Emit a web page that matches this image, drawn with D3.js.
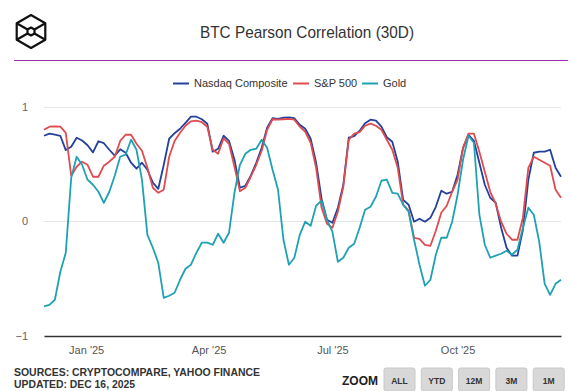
<!DOCTYPE html>
<html>
<head>
<meta charset="utf-8">
<script src="https://cdn.jsdelivr.net/npm/d3@7"></script>
<style>
  html, body { margin: 0; padding: 0; background: #fff; }
  svg { display: block; font-family: "Liberation Sans", Arial, sans-serif; }
</style>
</head>
<body>
<div id="chart"></div>
<script>
// one reading every 4 days, from Dec 1 2024 to Dec 16 2025
const startDate = "2024-12-01";
const stepDays = 4;

const nasdaq = [0.745, 0.763, 0.754, 0.745, 0.62, 0.65, 0.728, 0.704, 0.662, 0.60,
  0.697, 0.68, 0.623, 0.571, 0.627, 0.597, 0.51, 0.458, 0.51, 0.449,
  0.336, 0.283, 0.49, 0.719, 0.767, 0.806, 0.858, 0.911, 0.911, 0.889,
  0.85, 0.606, 0.632, 0.745, 0.70, 0.536, 0.292, 0.309, 0.397, 0.51,
  0.64, 0.815, 0.898, 0.893, 0.902, 0.906, 0.898, 0.841, 0.806, 0.719,
  0.51, 0.196, 0.013, -0.013, 0.118, 0.318, 0.728, 0.741, 0.789, 0.854,
  0.885, 0.876, 0.824, 0.732, 0.693, 0.519, 0.187, 0.144, -0.004, 0.022,
  -0.004, 0.03, 0.126, 0.266, 0.24, 0.257, 0.405, 0.64, 0.754, 0.70,
  0.51, 0.318, 0.205, 0.161, -0.057, -0.231, -0.30, -0.30, -0.074, 0.362,
  0.597, 0.606, 0.606, 0.623, 0.466, 0.388];

const sp500 = [0.797, 0.824, 0.826, 0.824, 0.771, 0.397, 0.475, 0.519, 0.492, 0.388,
  0.388, 0.484, 0.519, 0.562, 0.70, 0.754, 0.754, 0.675, 0.614, 0.466,
  0.292, 0.248, 0.275, 0.562, 0.70, 0.771, 0.832, 0.871, 0.876, 0.863,
  0.824, 0.623, 0.588, 0.723, 0.675, 0.475, 0.261, 0.292, 0.388, 0.492,
  0.614, 0.797, 0.889, 0.885, 0.889, 0.893, 0.885, 0.824, 0.78, 0.684,
  0.466, 0.118, -0.022, -0.057, 0.083, 0.301, 0.71, 0.763, 0.776, 0.832,
  0.85, 0.832, 0.797, 0.71, 0.623, 0.466, 0.144, 0.092, -0.144, -0.153,
  -0.205, -0.214, -0.083, 0.074, 0.135, 0.257, 0.362, 0.64, 0.763, 0.763,
  0.606, 0.431, 0.257, 0.153, -0.004, -0.109, -0.161, -0.161, 0.03, 0.466,
  0.562, 0.536, 0.51, 0.484, 0.275, 0.205];

const gold = [-0.742, -0.728, -0.684, -0.44, -0.275, 0.379, 0.562, 0.492, 0.362, 0.318,
  0.257, 0.161, 0.257, 0.397, 0.562, 0.58, 0.71, 0.623, 0.362, -0.118,
  -0.231, -0.362, -0.667, -0.649, -0.623, -0.51, -0.414, -0.379, -0.275, -0.187,
  -0.187, -0.205, -0.109, -0.187, -0.10, 0.248, 0.492, 0.588, 0.623, 0.632,
  0.71, 0.64, 0.449, 0.275, -0.161, -0.379, -0.318, -0.118, -0.004, -0.04,
  0.135, 0.179, 0.013, -0.092, -0.353, -0.318, -0.231, -0.196, -0.057, 0.10,
  0.126, 0.214, 0.353, 0.362, 0.248, 0.24, 0.144, 0.083, -0.161, -0.379,
  -0.562, -0.51, -0.292, -0.144, -0.144, -0.004, 0.231, 0.536, 0.745, 0.684,
  0.057, -0.205, -0.318, -0.30, -0.283, -0.257, -0.292, -0.248, -0.057, 0.118,
  0.057, -0.179, -0.545, -0.641, -0.545, -0.51];

const seriesNames = ["Nasdaq Composite", "S&P 500", "Gold"];
const yTicks = [-1, 0, 1];
const xTicks = ["2025-01-01", "2025-04-01", "2025-07-01", "2025-10-01"];
const zoomLabels = ["ALL", "YTD", "12M", "3M", "1M"];
const titleText = "BTC Pearson Correlation (30D)";
const sourceText = "SOURCES: CRYPTOCOMPARE, YAHOO FINANCE";
const updatedText = "UPDATED: DEC 16, 2025";

const colors = ["#23409a", "#e04b4f", "#1ea2b3"];

const width = 571, height = 391;
const plot = { left: 44, right: 561, top: 106.5, bottom: 336 };

const svg = d3.select("#chart").append("svg")
    .attr("width", width)
    .attr("height", height);

const start = d3.utcParse("%Y-%m-%d")(startDate);
const dates = nasdaq.map((_, i) => d3.utcDay.offset(start, i * stepDays));
const allSeries = [nasdaq, sp500, gold];

const x = d3.scaleUtc()
    .domain([dates[0], dates[dates.length - 1]])
    .range([plot.left, plot.right]);

const y = d3.scaleLinear()
    .domain([-1, 1])
    .range([plot.bottom, plot.top]);

// logo
const logo = svg.append("g")
    .attr("transform", "translate(31,31.5)")
    .attr("fill", "none")
    .attr("stroke", "#111")
    .attr("stroke-width", 2.2)
    .attr("stroke-linejoin", "round");
const hexPoints = (r) => d3.range(6).map(i => {
    const a = (Math.PI / 3) * i - Math.PI / 2;
    return [r * Math.cos(a), r * Math.sin(a)];
});
logo.append("polygon").attr("points", hexPoints(16.5).map(p => p.join(",")).join(" "));
logo.append("polygon").attr("points", hexPoints(4).map(p => p.join(",")).join(" "));
[1, 2, 4, 5].forEach(i => {
    logo.append("line")
        .attr("x1", hexPoints(4)[i][0]).attr("y1", hexPoints(4)[i][1])
        .attr("x2", hexPoints(16.5)[i][0]).attr("y2", hexPoints(16.5)[i][1]);
});

// title
svg.append("text")
    .attr("x", 307)
    .attr("y", 38)
    .attr("text-anchor", "middle")
    .attr("textLength", 214)
    .attr("lengthAdjust", "spacingAndGlyphs")
    .style("font-size", "17px")
    .style("fill", "#333")
    .text(titleText);

svg.append("line")
    .attr("x1", 14).attr("x2", 568)
    .attr("y1", 60.5).attr("y2", 60.5)
    .attr("stroke", "#9b2fae")
    .attr("stroke-width", 1);

// legend
const legendX = [173, 293, 362];
seriesNames.forEach((name, i) => {
    const g = svg.append("g").attr("transform", `translate(${legendX[i]},83.5)`);
    g.append("line")
        .attr("x1", 0).attr("x2", 16)
        .attr("stroke", colors[i])
        .attr("stroke-width", 2);
    g.append("text")
        .attr("x", 21)
        .attr("dy", "0.35em")
        .style("font-size", "11px")
        .style("fill", "#333")
        .text(name);
});

// grid lines
svg.append("g")
    .selectAll("line")
    .data(yTicks.filter(d => d !== -1))
    .enter()
    .append("line")
    .attr("x1", plot.left)
    .attr("x2", plot.right)
    .attr("y1", d => Math.round(y(d)) + 0.5)
    .attr("y2", d => Math.round(y(d)) + 0.5)
    .attr("stroke", "#e6e6e6")
    .attr("stroke-width", 1);

// y axis
const yAxis = d3.axisLeft(y)
    .tickValues(yTicks)
    .tickFormat(d3.format("d"))
    .tickSize(0)
    .tickPadding(16);

svg.append("g")
    .attr("transform", `translate(${plot.left},0)`)
    .call(yAxis)
    .call(g => g.select(".domain").remove())
    .selectAll("text")
    .style("font-size", "11px")
    .style("font-family", "Liberation Sans, Arial, sans-serif")
    .style("fill", "#666");

// x axis
const xAxis = d3.axisBottom(x)
    .tickValues(xTicks.map(d => d3.utcParse("%Y-%m-%d")(d)))
    .tickFormat(d3.utcFormat("%b '%y"))
    .tickSize(0)
    .tickPadding(10);

svg.append("g")
    .attr("transform", `translate(0,${plot.bottom})`)
    .call(xAxis)
    .call(g => g.select(".domain").attr("stroke", "#333").attr("stroke-width", 1.3))
    .selectAll("text")
    .style("font-size", "11px")
    .style("font-family", "Liberation Sans, Arial, sans-serif")
    .style("fill", "#555");

// series lines
const line = d3.line()
    .x((d, i) => x(dates[i]))
    .y(d => y(d));

allSeries.forEach((values, i) => {
    svg.append("path")
        .datum(values)
        .attr("fill", "none")
        .attr("stroke", colors[i])
        .attr("stroke-width", 1.8)
        .attr("stroke-linejoin", "round")
        .attr("d", line);
});

// footer
svg.append("text")
    .attr("x", 14).attr("y", 376)
    .attr("textLength", 246)
    .attr("lengthAdjust", "spacingAndGlyphs")
    .style("font-size", "11px")
    .style("font-weight", "bold")
    .style("fill", "#333")
    .text(sourceText);

svg.append("text")
    .attr("x", 14).attr("y", 387.5)
    .attr("textLength", 121)
    .attr("lengthAdjust", "spacingAndGlyphs")
    .style("font-size", "11px")
    .style("font-weight", "bold")
    .style("fill", "#333")
    .text(updatedText);

svg.append("text")
    .attr("x", 342).attr("y", 385)
    .style("font-size", "12px")
    .style("font-weight", "bold")
    .style("fill", "#222")
    .text("ZOOM");

const buttons = svg.append("g")
    .selectAll("g")
    .data(zoomLabels)
    .enter()
    .append("g")
    .attr("transform", (d, i) => `translate(${384 + i * 37.3},368)`);

buttons.append("rect")
    .attr("width", 31)
    .attr("height", 23)
    .attr("rx", 2)
    .attr("fill", "#d8d8d8")
    .attr("stroke", "#c8c8c8");

buttons.append("text")
    .attr("x", 15.5)
    .attr("y", 15.5)
    .attr("text-anchor", "middle")
    .style("font-size", "8.5px")
    .style("font-weight", "bold")
    .style("fill", "#333")
    .text(d => d);
</script>
</body>
</html>
